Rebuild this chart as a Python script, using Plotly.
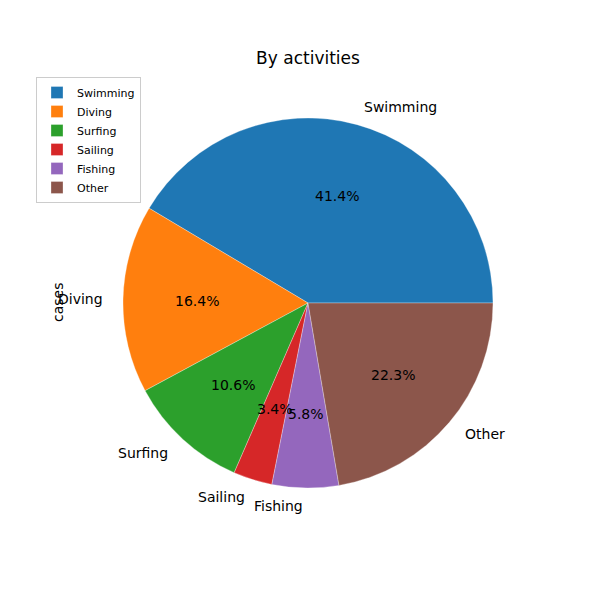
import math
import plotly.graph_objects as go

labels = ["Swimming", "Diving", "Surfing", "Sailing", "Fishing", "Other"]
values = [41.4, 16.4, 10.6, 3.4, 5.8, 22.3]
colors = ["#1f77b4", "#ff7f0e", "#2ca02c", "#d62728", "#9467bd", "#8c564b"]

W, H = 600, 600
OFF = 8  # page body margin


def px(xp):
    return (xp - OFF) / W


def py(yp):
    return 1 - (yp - OFF) / H


cx, cy, r = px(308), py(303), 185 / W
FONT = "DejaVu Sans"

total = sum(values)
# plotly counterclockwise: first slice occupies [rotation, rotation + v0] clockwise
rotation = 90 - 360 * values[0] / total

fig = go.Figure(go.Pie(
    labels=labels, values=values, sort=False, direction="counterclockwise",
    rotation=rotation, textinfo="none", hoverinfo="label+percent",
    marker=dict(colors=colors, line=dict(color="white", width=0.3)),
    domain=dict(x=[cx - r, cx + r], y=[cy - r, cy + r]),
))

ann = []
start = 0.0
for lab, v in zip(labels, values):
    frac = v / total
    mid = math.radians((start + frac / 2) * 360)
    start += frac
    c, s = math.cos(mid), math.sin(mid)
    ann.append(dict(x=cx + 1.1 * r * c, y=cy + 1.1 * r * s, xref="paper", yref="paper",
                    text=lab, showarrow=False, xanchor="left" if c > 0 else "right",
                    yanchor="middle", font=dict(size=14, color="black", family=FONT)))
    ann.append(dict(x=cx + 0.6 * r * c, y=cy + 0.6 * r * s, xref="paper", yref="paper",
                    text=f"{100 * frac:.1f}%", showarrow=False, xanchor="center",
                    yanchor="middle", font=dict(size=14, color="black", family=FONT)))
ann.append(dict(x=px(58), y=cy, xref="paper", yref="paper", text="cases", textangle=-90,
                showarrow=False, xanchor="center", yanchor="middle",
                font=dict(size=14, color="black", family=FONT)))

fig.update_layout(
    width=W, height=H, margin=dict(l=0, r=0, t=0, b=0),
    paper_bgcolor="white", plot_bgcolor="white",
    title=dict(text="By activities", x=cx, xanchor="center", y=py(58), yanchor="middle",
               font=dict(size=17, color="black", family=FONT)),
    legend=dict(x=px(36), y=py(77), xanchor="left", yanchor="top",
                bordercolor="#cccccc", borderwidth=1, bgcolor="white",
                font=dict(size=11, color="black", family=FONT), itemwidth=30,
                tracegroupgap=0),
    annotations=ann,
)
fig.write_html("out.html")
